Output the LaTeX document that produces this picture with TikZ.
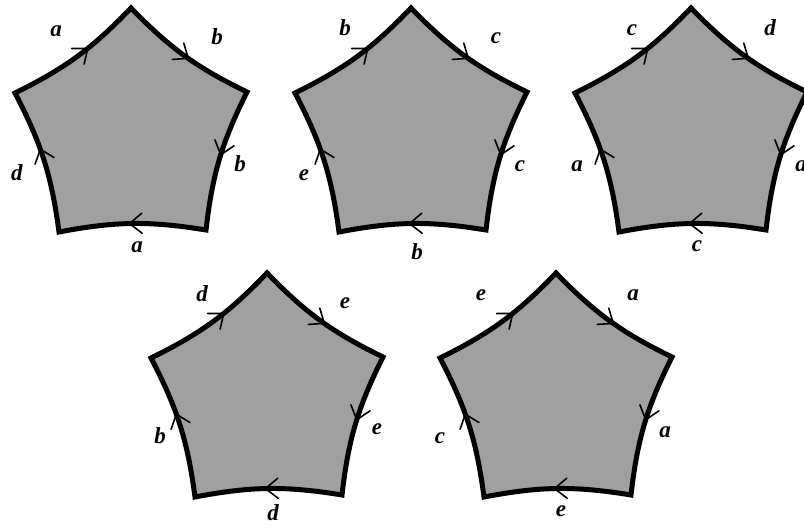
\documentclass[tikz,border=0pt]{standalone}
\usepackage{fontspec}
\newfontfamily\labfont{Liberation Serif}
\usetikzlibrary{decorations.markings}
\definecolor{pentfill}{RGB}{160,160,160}
\tikzset{
  x=1pt, y=1pt,
  pentbody/.style={fill=pentfill, draw=black, line width=5pt, line join=miter},
  edgebend/.style={bend right=10},
  arr/.style={postaction={decorate}, decoration={markings,
      mark=at position #1 with {\draw[line width=1.6pt, line cap=round] (-12.5,10) -- (0,0) -- (-12.5,-10);}}},
  lab/.style={font=\labfont\fontsize{23}{25}\selectfont\bfseries\itshape, inner sep=0pt},
}
\newcommand{\mypent}[3]{%
  \begin{scope}[shift={(#2,-#3)}]
    \coordinate (#1T) at (131,-8);
    \coordinate (#1R) at (247,-92);
    \coordinate (#1BR) at (206,-230);
    \coordinate (#1BL) at (59,-232);
    \coordinate (#1L) at (15,-93);
    \path[pentbody] (#1T) to[edgebend] (#1R) to[edgebend] (#1BR) to[edgebend] (#1BL) to[edgebend] (#1L) to[edgebend] cycle;
    \path[arr=0.53] (#1T) to[edgebend] (#1R);
    \path[arr=0.47] (#1R) to[edgebend] (#1BR);
    \path[arr=0.52] (#1BR) to[edgebend] (#1BL);
    \path[arr=0.58] (#1BL) to[edgebend] (#1L);
    \path[arr=0.59] (#1L) to[edgebend] (#1T);
  \end{scope}}
\begin{document}
\begin{tikzpicture}
\useasboundingbox (0,0) rectangle (804,-529);
\mypent{pa}{0}{0}
\mypent{pb}{280}{0}
\mypent{pc}{560}{0}
\mypent{pd}{136}{265}
\mypent{pe}{425}{265}
% pentagon 1
\node[lab] (l1a) at (56,-31) {a};
\node[lab] (l1b) at (217,-37) {b};
\node[lab] (l1c) at (240,-164) {b};
\node[lab] (l1d) at (17,-173) {d};
\node[lab] (l1e) at (137,-247) {a};
% pentagon 2
\node[lab] (l2a) at (345,-28) {b};
\node[lab] (l2b) at (496,-38) {c};
\node[lab] (l2c) at (520,-166) {c};
\node[lab] (l2d) at (304,-175) {e};
\node[lab] (l2e) at (417,-252) {b};
% pentagon 3
\node[lab] (l3a) at (632,-30) {c};
\node[lab] (l3b) at (770,-28) {d};
\node[lab] (l3c) at (801,-166) {a};
\node[lab] (l3d) at (577,-166) {a};
\node[lab] (l3e) at (697,-246) {c};
% pentagon 4
\node[lab] (l4a) at (202,-294) {d};
\node[lab] (l4b) at (345,-303) {e};
\node[lab] (l4c) at (377,-429) {e};
\node[lab] (l4d) at (160,-436) {b};
\node[lab] (l4e) at (273,-513) {d};
% pentagon 5
\node[lab] (l5a) at (481,-295) {e};
\node[lab] (l5b) at (633,-295) {a};
\node[lab] (l5c) at (665,-432) {a};
\node[lab] (l5d) at (440,-438) {c};
\node[lab] (l5e) at (561,-511) {e};
\end{tikzpicture}
\end{document}
